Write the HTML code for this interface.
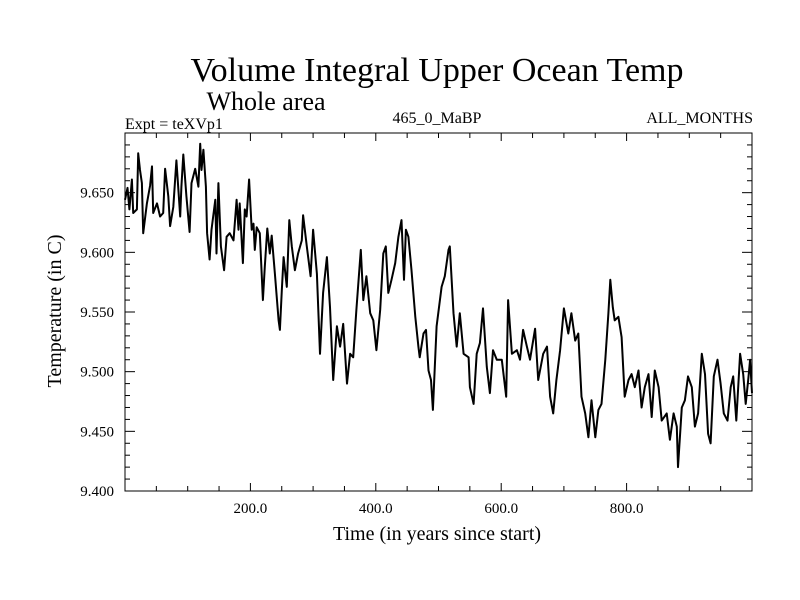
<!DOCTYPE html>
<html><head><meta charset="utf-8"><style>
body{margin:0;background:#fff}
svg{display:block;font-family:"Liberation Serif",serif}
</style></head><body>
<svg width="800" height="600">
<rect width="800" height="600" fill="#fff"/>
<text x="437" y="81" font-size="34" text-anchor="middle">Volume Integral Upper Ocean Temp</text>
<text x="266" y="110" font-size="26" text-anchor="middle">Whole area</text>
<text x="125" y="129" font-size="16">Expt = teXVp1</text>
<text x="437" y="123" font-size="16" text-anchor="middle">465_0_MaBP</text>
<text x="753" y="123" font-size="16" text-anchor="end">ALL_MONTHS</text>
<text x="437" y="540" font-size="20" text-anchor="middle">Time (in years since start)</text>
<text transform="translate(61,311) rotate(-90)" font-size="20" text-anchor="middle">Temperature (in C)</text>
<g id="axes"></g>
<path id="series" fill="none" stroke="#000" stroke-width="2" stroke-linejoin="round"/>
<rect x="125" y="133" width="627" height="358" fill="none" stroke="#000" stroke-width="1"/>
</svg>
<script>
const years=[0,4,7,11,13,19,21,24,27,29,35,40,43,45,51,56,61,64,69,72,77,82,88,90,93,98,103,106,112,117,120,122,125,129,131,135,138,144,146,149,153,158,162,167,173,178,181,183,188,191,194,198,202,205,207,210,215,220,223,227,231,234,239,245,247,250,253,258,262,266,271,276,282,284,290,296,300,306,311,316,322,327,332,338,343,348,354,359,364,369,376,380,385,391,396,401,407,412,416,420,425,431,436,441,445,448,452,457,463,468,470,476,480,484,488,491,497,505,510,516,518,524,529,534,540,548,550,556,561,566,571,577,582,587,593,601,608,611,617,625,630,635,641,646,654,659,667,673,678,683,688,694,700,707,712,718,723,728,734,739,744,750,755,760,766,771,774,778,781,787,792,797,803,808,813,819,824,829,835,840,845,851,856,864,869,875,880,882,888,893,898,904,909,914,920,925,930,934,939,945,950,955,961,966,970,975,981,986,990,994,997,1000];
const temps=[9.644,9.654,9.636,9.661,9.633,9.636,9.683,9.669,9.658,9.616,9.641,9.656,9.672,9.633,9.641,9.630,9.633,9.670,9.647,9.622,9.638,9.677,9.630,9.655,9.682,9.647,9.617,9.658,9.670,9.655,9.691,9.669,9.686,9.655,9.616,9.594,9.619,9.644,9.599,9.658,9.605,9.585,9.613,9.616,9.610,9.644,9.619,9.641,9.591,9.636,9.630,9.661,9.619,9.624,9.602,9.621,9.616,9.560,9.588,9.620,9.599,9.614,9.582,9.543,9.535,9.568,9.596,9.571,9.627,9.605,9.585,9.599,9.610,9.631,9.605,9.580,9.619,9.582,9.515,9.566,9.596,9.554,9.493,9.538,9.521,9.540,9.490,9.515,9.512,9.552,9.602,9.560,9.580,9.549,9.543,9.518,9.552,9.599,9.605,9.566,9.577,9.591,9.613,9.627,9.577,9.619,9.613,9.585,9.546,9.521,9.512,9.532,9.535,9.501,9.493,9.468,9.538,9.571,9.580,9.602,9.605,9.549,9.521,9.549,9.515,9.512,9.487,9.473,9.515,9.524,9.553,9.504,9.482,9.518,9.510,9.510,9.479,9.560,9.515,9.518,9.510,9.535,9.521,9.510,9.536,9.493,9.515,9.521,9.479,9.465,9.493,9.518,9.553,9.532,9.549,9.526,9.532,9.479,9.465,9.445,9.476,9.445,9.468,9.473,9.510,9.549,9.577,9.554,9.543,9.546,9.529,9.479,9.493,9.498,9.487,9.501,9.470,9.487,9.498,9.462,9.501,9.487,9.459,9.465,9.443,9.465,9.454,9.420,9.470,9.476,9.496,9.487,9.454,9.465,9.515,9.498,9.448,9.440,9.496,9.510,9.490,9.465,9.459,9.487,9.496,9.459,9.515,9.498,9.473,9.493,9.510,9.482];
const xTickVals=[200,400,600,800];
const xTickLabels=["200.0","400.0","600.0","800.0"];
const yTickVals=[9.40,9.45,9.50,9.55,9.60,9.65];
const yTickLabels=["9.400","9.450","9.500","9.550","9.600","9.650"];

const X0=125,X1=752,Y0=491,Y1=133;
function xs(v){return X0+(v/1000)*(X1-X0);}
function ys(v){return Y0-(v-9.4)/0.3*(Y0-Y1);}
const NS="http://www.w3.org/2000/svg";
const g=document.getElementById('axes');
function line(x1,y1,x2,y2,name){const l=document.createElementNS(NS,'line');l.setAttribute('x1',x1);l.setAttribute('y1',y1);l.setAttribute('x2',x2);l.setAttribute('y2',y2);l.setAttribute('stroke','#000');


g.appendChild(l);}
for(let v=50;v<1000;v+=50){const x=xs(v),L=(v%200===0)?8:5;line(x,Y0,x,Y0-L,'x-tick');line(x,Y1,x,Y1+L,'x-tick');}
for(let i=1;i<30;i++){const v=9.4+i*0.01,y=ys(v),L=(i%5===0)?10:5;line(X0,y,X0+L,y,'y-tick');line(X1,y,X1-L,y,'y-tick');}
xTickVals.forEach((v,i)=>{const t=document.createElementNS(NS,'text');t.setAttribute('x',xs(v));t.setAttribute('y',513);t.setAttribute('font-size','15');t.setAttribute('text-anchor','middle');t.textContent=xTickLabels[i];


g.appendChild(t);});
yTickVals.forEach((v,i)=>{const t=document.createElementNS(NS,'text');t.setAttribute('x',114);t.setAttribute('y',ys(v)+5);t.setAttribute('font-size','15');t.setAttribute('text-anchor','end');t.textContent=yTickLabels[i];


g.appendChild(t);});
document.getElementById('series').setAttribute('d',years.map((yr,i)=>(i?'L':'M')+xs(yr).toFixed(1)+','+ys(temps[i]).toFixed(1)).join(''));
</script>
</body></html>
